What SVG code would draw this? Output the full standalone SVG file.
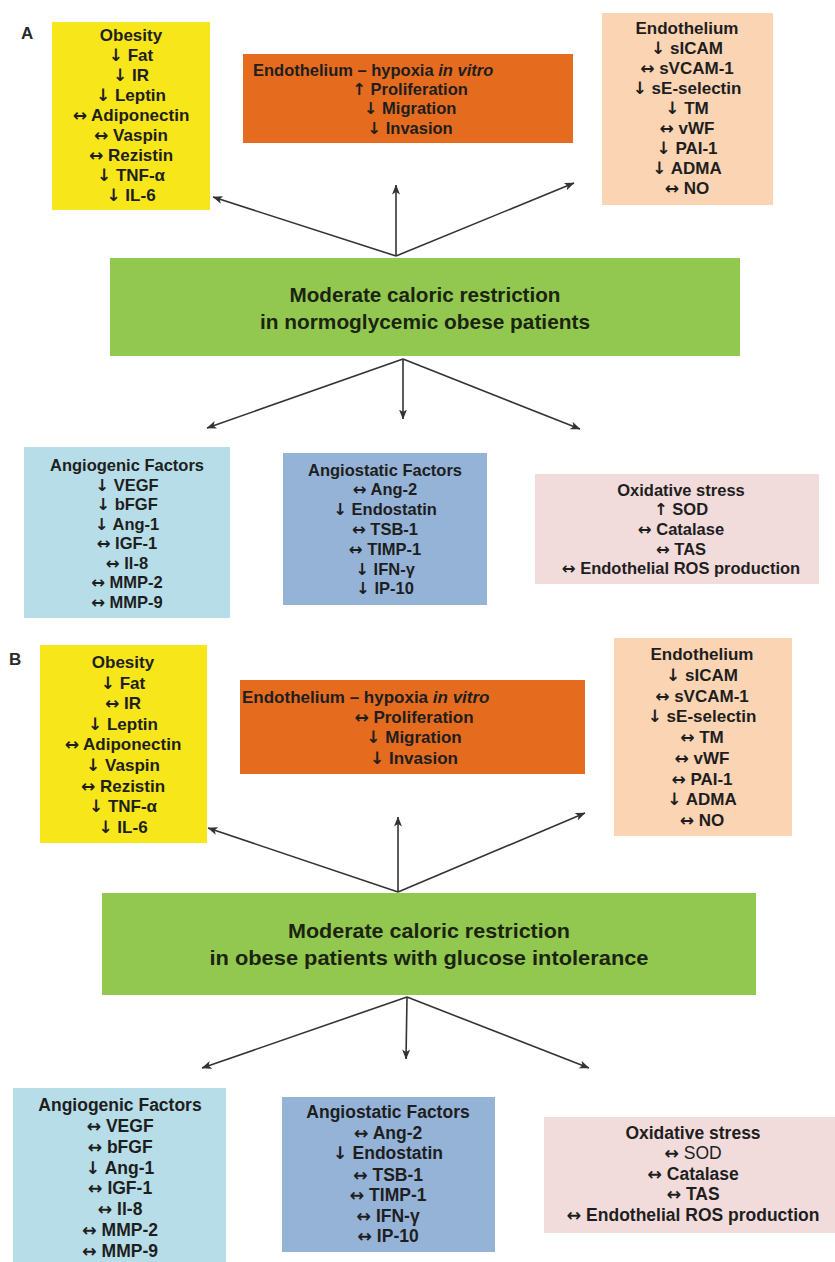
<svg xmlns="http://www.w3.org/2000/svg" width="835" height="1262" viewBox="0 0 835 1262">
<defs>
<style>
text{font-family:"Liberation Sans",Arial,sans-serif;font-weight:bold;fill:#1e1e1e;text-anchor:middle}
.a{font-family:"DejaVu Sans",sans-serif;font-weight:bold}
.lbl{font-size:17px;text-anchor:start;fill:#2a2a2a}
.y{fill:#F7E619}
.o{fill:#E56C1E}
.p{fill:#FBD4B4}
.g{fill:#92C850}
.lb{fill:#B7DDE8}
.b{fill:#95B3D7}
.pk{fill:#F2DCDB}
.f17{font-size:17px}
.f16{font-size:16.5px}
.f175{font-size:17.5px}
.gt{font-size:20.5px;fill:#1b2410}
.st{text-anchor:start}
.it{font-style:italic}
.nw{font-weight:normal}
.cn{stroke:#333;stroke-width:1.6;fill:none;marker-end:url(#ah)}
</style>
<marker id="ah" viewBox="0 0 10 8" refX="9.5" refY="4" markerWidth="10" markerHeight="8" markerUnits="userSpaceOnUse" orient="auto">
<path d="M0,0 L10,4 L0,8 L2.5,4 z" fill="#333"/>
</marker>
</defs>
<rect width="835" height="1262" fill="#fff"/>

<text class="lbl" x="21" y="39">A</text>
<text class="lbl" x="9" y="665">B</text>

<g id="connectors">
<line class="cn" x1="396" y1="256" x2="213" y2="197"/>
<line class="cn" x1="396" y1="256" x2="396" y2="185"/>
<line class="cn" x1="396" y1="256" x2="574" y2="183"/>
<line class="cn" x1="403" y1="359" x2="207" y2="428"/>
<line class="cn" x1="403" y1="359" x2="403" y2="419"/>
<line class="cn" x1="403" y1="359" x2="580" y2="429"/>
<line class="cn" x1="398" y1="892" x2="208" y2="828"/>
<line class="cn" x1="398" y1="892" x2="398" y2="817"/>
<line class="cn" x1="398" y1="892" x2="585" y2="813"/>
<line class="cn" x1="407" y1="997" x2="202" y2="1068"/>
<line class="cn" x1="407" y1="997" x2="406" y2="1059"/>
<line class="cn" x1="407" y1="997" x2="589" y2="1068"/>
</g>

<g id="a-obesity">
<rect class="y" x="52" y="22" width="158" height="188"/>
<g class="f17">
<text x="131" y="41">Obesity</text>
<text x="131" y="61"><tspan class="a">↓</tspan> Fat</text>
<text x="131" y="81"><tspan class="a">↓</tspan> IR</text>
<text x="131" y="101"><tspan class="a">↓</tspan> Leptin</text>
<text x="131" y="121"><tspan class="a">↔</tspan> Adiponectin</text>
<text x="131" y="141"><tspan class="a">↔</tspan> Vaspin</text>
<text x="131" y="161"><tspan class="a">↔</tspan> Rezistin</text>
<text x="131" y="181"><tspan class="a">↓</tspan> TNF-α</text>
<text x="131" y="201"><tspan class="a">↓</tspan> IL-6</text>
</g>
</g>

<g id="a-hypoxia">
<rect class="o" x="243" y="54" width="330" height="89"/>
<g class="f16">
<text class="st" x="253" y="76">Endothelium – hypoxia <tspan class="it">in vitro</tspan></text>
<text x="410" y="95"><tspan class="a">↑</tspan> Proliferation</text>
<text x="410" y="114"><tspan class="a">↓</tspan> Migration</text>
<text x="410" y="134"><tspan class="a">↓</tspan> Invasion</text>
</g>
</g>

<g id="a-endothelium">
<rect class="p" x="602" y="13" width="171" height="192"/>
<g class="f17">
<text x="687" y="34">Endothelium</text>
<text x="687" y="54"><tspan class="a">↓</tspan> sICAM</text>
<text x="687" y="74"><tspan class="a">↔</tspan> sVCAM-1</text>
<text x="687" y="94"><tspan class="a">↓</tspan> sE-selectin</text>
<text x="687" y="114"><tspan class="a">↓</tspan> TM</text>
<text x="687" y="134"><tspan class="a">↔</tspan> vWF</text>
<text x="687" y="154"><tspan class="a">↓</tspan> PAI-1</text>
<text x="687" y="174"><tspan class="a">↓</tspan> ADMA</text>
<text x="687" y="194"><tspan class="a">↔</tspan> NO</text>
</g>
</g>

<g id="a-restriction">
<rect class="g" x="110" y="258" width="630" height="98"/>
<text class="gt" x="425" y="302" textLength="271" lengthAdjust="spacingAndGlyphs">Moderate caloric restriction</text>
<text class="gt" x="425" y="329" textLength="330" lengthAdjust="spacingAndGlyphs">in normoglycemic obese patients</text>
</g>

<g id="a-angiogenic">
<rect class="lb" x="24" y="447" width="206" height="171"/>
<g class="f16">
<text x="127" y="471">Angiogenic Factors</text>
<text x="127" y="490.5"><tspan class="a">↓</tspan> VEGF</text>
<text x="127" y="510"><tspan class="a">↓</tspan> bFGF</text>
<text x="127" y="529.5"><tspan class="a">↓</tspan> Ang-1</text>
<text x="127" y="549"><tspan class="a">↔</tspan> IGF-1</text>
<text x="127" y="568.5"><tspan class="a">↔</tspan> Il-8</text>
<text x="127" y="588"><tspan class="a">↔</tspan> MMP-2</text>
<text x="127" y="607.5"><tspan class="a">↔</tspan> MMP-9</text>
</g>
</g>

<g id="a-angiostatic">
<rect class="b" x="283" y="453" width="204" height="152"/>
<g class="f16">
<text x="385" y="476">Angiostatic Factors</text>
<text x="385" y="495"><tspan class="a">↔</tspan> Ang-2</text>
<text x="385" y="515"><tspan class="a">↓</tspan> Endostatin</text>
<text x="385" y="535"><tspan class="a">↔</tspan> TSB-1</text>
<text x="385" y="555"><tspan class="a">↔</tspan> TIMP-1</text>
<text x="385" y="575"><tspan class="a">↓</tspan> IFN-γ</text>
<text x="385" y="594"><tspan class="a">↓</tspan> IP-10</text>
</g>
</g>

<g id="a-oxidative">
<rect class="pk" x="535" y="474" width="284" height="110"/>
<g class="f16">
<text x="681" y="496">Oxidative stress</text>
<text x="681" y="515"><tspan class="a">↑</tspan> SOD</text>
<text x="681" y="535"><tspan class="a">↔</tspan> Catalase</text>
<text x="681" y="555"><tspan class="a">↔</tspan> TAS</text>
<text x="681" y="574"><tspan class="a">↔</tspan> Endothelial ROS production</text>
</g>
</g>

<g id="b-obesity">
<rect class="y" x="40" y="645" width="167" height="198"/>
<g class="f17">
<text x="123" y="668">Obesity</text>
<text x="123" y="688.6"><tspan class="a">↓</tspan> Fat</text>
<text x="123" y="709.2"><tspan class="a">↔</tspan> IR</text>
<text x="123" y="729.8"><tspan class="a">↓</tspan> Leptin</text>
<text x="123" y="750.4"><tspan class="a">↔</tspan> Adiponectin</text>
<text x="123" y="771"><tspan class="a">↓</tspan> Vaspin</text>
<text x="123" y="791.6"><tspan class="a">↔</tspan> Rezistin</text>
<text x="123" y="812.2"><tspan class="a">↓</tspan> TNF-α</text>
<text x="123" y="832.8"><tspan class="a">↓</tspan> IL-6</text>
</g>
</g>

<g id="b-hypoxia">
<rect class="o" x="240" y="680" width="345" height="94"/>
<g class="f17">
<text class="st" x="242" y="703">Endothelium – hypoxia <tspan class="it">in vitro</tspan></text>
<text x="414" y="723"><tspan class="a">↔</tspan> Proliferation</text>
<text x="414" y="743"><tspan class="a">↓</tspan> Migration</text>
<text x="414" y="764"><tspan class="a">↓</tspan> Invasion</text>
</g>
</g>

<g id="b-endothelium">
<rect class="p" x="614" y="638" width="178" height="198"/>
<g class="f17">
<text x="702" y="660">Endothelium</text>
<text x="702" y="680.8"><tspan class="a">↓</tspan> sICAM</text>
<text x="702" y="701.5"><tspan class="a">↔</tspan> sVCAM-1</text>
<text x="702" y="722.3"><tspan class="a">↓</tspan> sE-selectin</text>
<text x="702" y="743"><tspan class="a">↔</tspan> TM</text>
<text x="702" y="763.8"><tspan class="a">↔</tspan> vWF</text>
<text x="702" y="784.5"><tspan class="a">↔</tspan> PAI-1</text>
<text x="702" y="805.3"><tspan class="a">↓</tspan> ADMA</text>
<text x="702" y="826"><tspan class="a">↔</tspan> NO</text>
</g>
</g>

<g id="b-restriction">
<rect class="g" x="102" y="893" width="654" height="102"/>
<text class="gt" x="429" y="938" textLength="282" lengthAdjust="spacingAndGlyphs">Moderate caloric restriction</text>
<text class="gt" x="429" y="965" textLength="439" lengthAdjust="spacingAndGlyphs">in obese patients with glucose intolerance</text>
</g>

<g id="b-angiogenic">
<rect class="lb" x="13" y="1088" width="213" height="174"/>
<g class="f175">
<text x="120" y="1111">Angiogenic Factors</text>
<text x="120" y="1132"><tspan class="a">↔</tspan> VEGF</text>
<text x="120" y="1153"><tspan class="a">↔</tspan> bFGF</text>
<text x="120" y="1174"><tspan class="a">↓</tspan> Ang-1</text>
<text x="120" y="1194"><tspan class="a">↔</tspan> IGF-1</text>
<text x="120" y="1215"><tspan class="a">↔</tspan> Il-8</text>
<text x="120" y="1236"><tspan class="a">↔</tspan> MMP-2</text>
<text x="120" y="1257"><tspan class="a">↔</tspan> MMP-9</text>
</g>
</g>

<g id="b-angiostatic">
<rect class="b" x="282" y="1097" width="213" height="155"/>
<g class="f175">
<text x="388" y="1118">Angiostatic Factors</text>
<text x="388" y="1139"><tspan class="a">↔</tspan> Ang-2</text>
<text x="388" y="1159"><tspan class="a">↓</tspan> Endostatin</text>
<text x="388" y="1181"><tspan class="a">↔</tspan> TSB-1</text>
<text x="388" y="1201"><tspan class="a">↔</tspan> TIMP-1</text>
<text x="388" y="1222"><tspan class="a">↔</tspan> IFN-γ</text>
<text x="388" y="1242"><tspan class="a">↔</tspan> IP-10</text>
</g>
</g>

<g id="b-oxidative">
<rect class="pk" x="544" y="1117" width="291" height="116"/>
<g class="f175">
<text x="693" y="1139">Oxidative stress</text>
<text x="693" y="1159"><tspan class="a">↔</tspan> <tspan class="nw">SOD</tspan></text>
<text x="693" y="1180"><tspan class="a">↔</tspan> Catalase</text>
<text x="693" y="1200"><tspan class="a">↔</tspan> TAS</text>
<text x="693" y="1221"><tspan class="a">↔</tspan> Endothelial ROS production</text>
</g>
</g>
</svg>
